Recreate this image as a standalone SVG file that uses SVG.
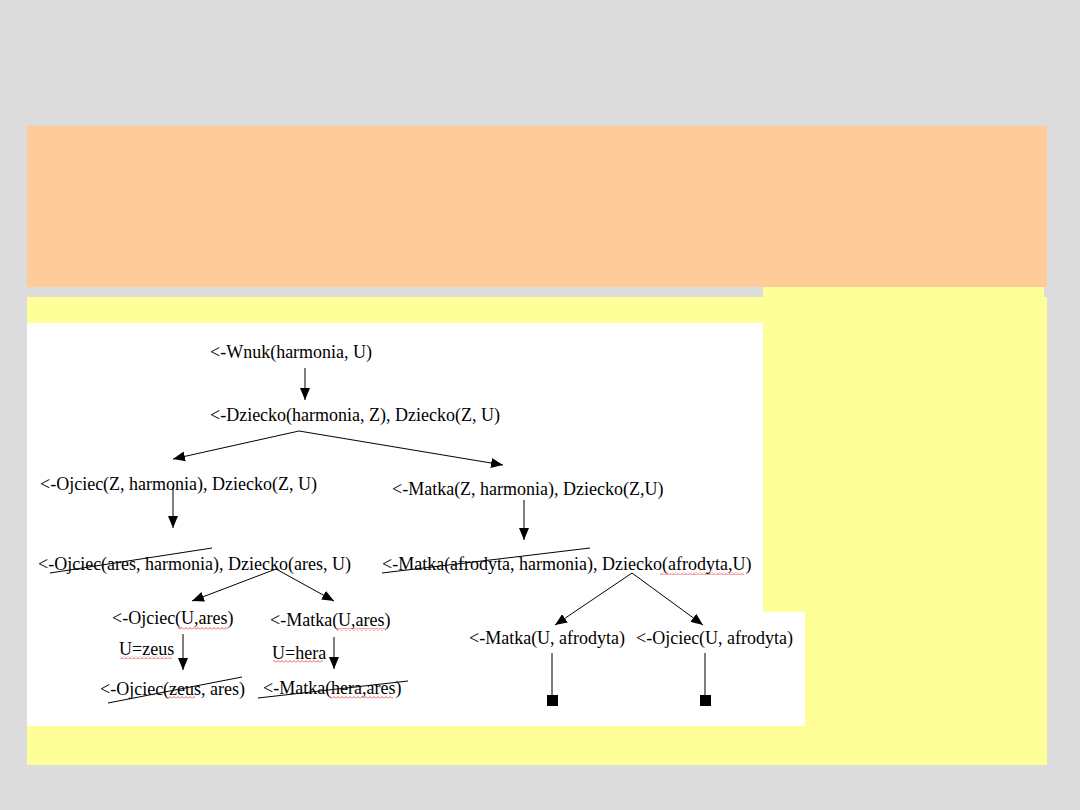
<svg xmlns="http://www.w3.org/2000/svg" width="1080" height="810" viewBox="0 0 1080 810">
<defs>
<marker id="ah" viewBox="0 0 12 10" refX="12" refY="5" markerWidth="12" markerHeight="10" markerUnits="userSpaceOnUse" orient="auto">
<path d="M0,0 L12,5 L0,10 Z" fill="#000"/>
</marker>
<pattern id="wave" width="4" height="3" patternUnits="userSpaceOnUse">
<path d="M0,2.5 L2,0.5 L4,2.5" fill="none" stroke="#e03030" stroke-width="0.8"/>
</pattern>
</defs>
<style>
text{font-family:"Liberation Serif","Times New Roman",serif;font-size:18px;fill:#000}
.c{stroke:#000;stroke-width:1;fill:none}
.a{stroke:#000;stroke-width:1;fill:none;marker-end:url(#ah)}
.s{stroke:#000;stroke-width:1;fill:none}
.w{fill:url(#wave)}
</style>
<rect width="1080" height="810" fill="#dcdcdc"/>
<rect x="27" y="126" width="1020" height="161" fill="#ffcc99"/>
<rect x="763" y="287" width="281" height="10" fill="#ffff99"/>
<rect x="27" y="297" width="1020" height="468" fill="#ffff99"/>
<rect x="27" y="323" width="736" height="403" fill="#fff"/>
<rect x="763" y="612" width="42" height="114" fill="#fff"/>

<g id="connectors">
<line class="a" x1="305" y1="368" x2="305" y2="400"/>
<polyline class="a" points="299,431 173,459"/>
<polyline class="a" points="299,431 503,465"/>
<line class="a" x1="173" y1="487" x2="173" y2="528"/>
<line class="a" x1="524" y1="500" x2="524" y2="540"/>
<line class="a" x1="276" y1="569" x2="192" y2="601"/>
<line class="a" x1="276" y1="569" x2="334" y2="601"/>
<line class="a" x1="632" y1="573" x2="555" y2="625"/>
<line class="a" x1="632" y1="573" x2="703" y2="625"/>
<line class="a" x1="183" y1="634" x2="183" y2="670"/>
<line class="a" x1="334" y1="637" x2="334" y2="669"/>
<line class="c" x1="552" y1="653" x2="552" y2="700"/>
<rect x="547" y="695" width="11" height="11" fill="#000"/>
<line class="c" x1="705" y1="653" x2="705" y2="700"/>
<rect x="700" y="695" width="11" height="11" fill="#000"/>
</g>

<g id="n1"><text x="210" y="358">&lt;-Wnuk(harmonia, U)</text></g>
<g id="n2"><text x="210" y="421">&lt;-Dziecko(harmonia, Z), Dziecko(Z, U)</text></g>
<g id="n3"><text x="40" y="490">&lt;-Ojciec(Z, harmonia), Dziecko(Z, U)</text></g>
<g id="n4"><text x="392" y="495">&lt;-Matka(Z, harmonia), Dziecko(Z,U)</text></g>
<g id="n5"><text x="38" y="570">&lt;-Ojciec(ares, harmonia), Dziecko(ares, U)</text>
<line class="s" x1="50" y1="573" x2="212" y2="548"/></g>
<g id="n6"><text x="382" y="570">&lt;-Matka(afrodyta, harmonia), Dziecko(afrodyta,U)</text>
<line class="s" x1="382" y1="573" x2="590" y2="548"/>
<rect class="w" x="660" y="572" width="84" height="3"/></g>
<g id="n7"><text x="112" y="624">&lt;-Ojciec(U,ares)</text>
<rect class="w" x="178" y="627" width="50" height="3"/></g>
<g id="n8"><text x="270" y="626">&lt;-Matka(U,ares)</text>
<rect class="w" x="337" y="628" width="48" height="3"/></g>
<g id="n9"><text x="119" y="655">U=zeus</text>
<rect class="w" x="120" y="656" width="52" height="3"/></g>
<g id="n10"><text x="272" y="659">U=hera</text>
<rect class="w" x="273" y="660" width="50" height="3"/></g>
<g id="n11"><text x="100" y="695">&lt;-Ojciec(zeus, ares)</text>
<line class="s" x1="108" y1="703" x2="242" y2="677"/>
<rect class="w" x="165" y="696" width="30" height="3"/></g>
<g id="n12"><text x="263" y="694">&lt;-Matka(hera,ares)</text>
<line class="s" x1="258" y1="698" x2="408" y2="681"/>
<rect class="w" x="330" y="696" width="63" height="3"/></g>
<g id="n13"><text x="469" y="644">&lt;-Matka(U, afrodyta)</text></g>
<g id="n14"><text x="636" y="644">&lt;-Ojciec(U, afrodyta)</text></g>
</svg>
